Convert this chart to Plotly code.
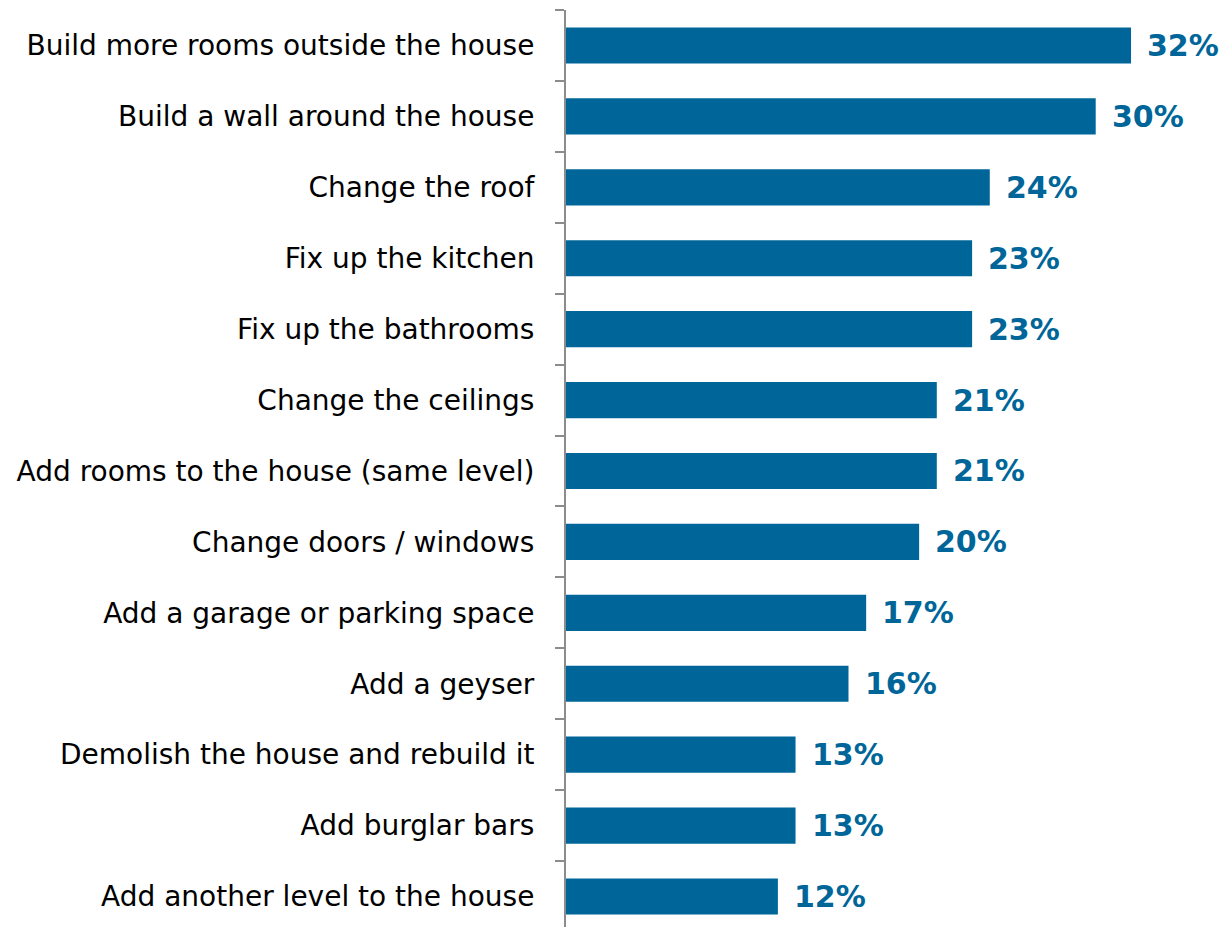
import plotly.graph_objects as go

# Home improvements respondents would make, share of respondents (%)
categories = [
    "Build more rooms outside the house",
    "Build a wall around the house",
    "Change the roof",
    "Fix up the kitchen",
    "Fix up the bathrooms",
    "Change the ceilings",
    "Add rooms to the house (same level)",
    "Change doors / windows",
    "Add a garage or parking space",
    "Add a geyser",
    "Demolish the house and rebuild it",
    "Add burglar bars",
    "Add another level to the house",
]
values = [32, 30, 24, 23, 23, 21, 21, 20, 17, 16, 13, 13, 12]
value_labels = [f"{v}%" for v in values]

BAR_COLOR = "#006699"
FONT = "DejaVu Sans"

fig = go.Figure(
    go.Bar(
        x=values,
        y=categories,
        orientation="h",
        marker=dict(color=BAR_COLOR, line=dict(width=0)),
        width=0.51,
        hoverinfo="skip",
    )
)

# Value labels placed just past the end of each bar
for cat, v, lab in zip(categories, values, value_labels):
    fig.add_annotation(
        x=v, y=cat, text=f"<b>{lab}</b>", showarrow=False,
        xanchor="left", yanchor="middle", xshift=14,
        font=dict(family=FONT, size=30, color=BAR_COLOR),
    )

fig.update_layout(
    width=1229, height=927,
    margin=dict(l=566, r=45, t=10, b=0),
    paper_bgcolor="white", plot_bgcolor="white",
    showlegend=False,
    font=dict(family=FONT, size=28, color="#000000"),
    xaxis=dict(range=[0, 35], visible=False, fixedrange=True),
    yaxis=dict(
        type="category",
        categoryorder="array", categoryarray=categories,
        range=[12.43, -0.5],
        showline=True, linecolor="#8c8c8c", linewidth=2,
        ticks="outside", tickson="boundaries", ticklen=9,
        tickcolor="#8c8c8c", tickwidth=2,
        ticklabelstandoff=24,
        showgrid=False, zeroline=False,
        tickfont=dict(family=FONT, size=28, color="#000000"),
    ),
)

fig.write_html("out.html")
